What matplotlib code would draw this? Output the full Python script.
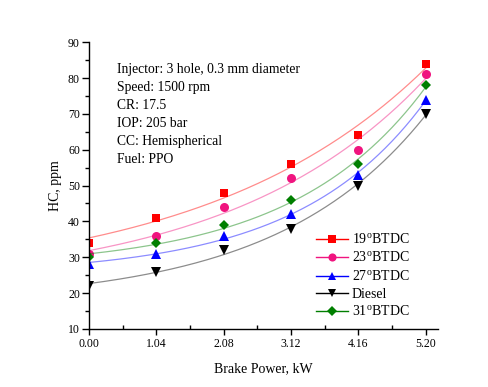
import numpy as np
import matplotlib
matplotlib.use("Agg")
import matplotlib.pyplot as plt
from matplotlib.ticker import MultipleLocator, FixedLocator
from matplotlib.lines import Line2D

plt.rcParams['font.family'] = ['Liberation Serif', 'DejaVu Serif']
plt.rcParams['mathtext.fontset'] = 'custom'
plt.rcParams['mathtext.rm'] = 'Liberation Serif'

power = [0.00, 1.04, 2.08, 3.12, 4.16, 5.20]
series_names = ["19$^\\mathrm{o}$BTDC", "23$^\\mathrm{o}$BTDC", "27$^\\mathrm{o}$BTDC", "Diesel", "31$^\\mathrm{o}$BTDC"]
hc_19 = [34, 41, 48, 56, 64, 84]
hc_23 = [31, 36, 44, 52, 60, 81]
hc_27 = [28, 31, 36, 42, 53, 74]
hc_diesel = [22, 26, 32, 38, 50, 70]
hc_31 = [30, 34, 39, 46, 56, 78]
tick_labels = ["0.00", "1.04", "2.08", "3.12", "4.16", "5.20"]
info_lines = ["Injector: 3 hole, 0.3 mm diameter", "Speed: 1500 rpm", "CR: 17.5",
              "IOP: 205 bar", "CC: Hemispherical", "Fuel: PPO"]

series = [hc_19, hc_23, hc_27, hc_diesel, hc_31]
colors = ["#ff0000", "#f0147f", "#0000ff", "#000000", "#007f00"]
markers = ["s", "o", "^", "v", "D"]
msizes = [6, 6.5, 6.5, 6.5, 5.5]


def exp_growth_fit(x, y):
    """Least-squares fit of y = y0 + A*exp(x/t) (scan t, linear solve y0, A)."""
    best = None
    for t in np.linspace(0.5, 20, 400):
        M = np.column_stack([np.ones_like(x), np.exp(x / t)])
        c, res, *_ = np.linalg.lstsq(M, y, rcond=None)
        err = np.sum((M @ c - y) ** 2)
        if best is None or err < best[0]:
            best = (err, t, c)
    _, t, c = best
    return lambda xx: c[0] + c[1] * np.exp(xx / t)


fig = plt.figure(figsize=(4.89, 3.87), dpi=100)
ax = fig.add_axes([0.182, 0.150, 0.714, 0.741])

x = np.array(power)
xf = np.linspace(0, 5.2, 200)
handles = []
for name, ys, c, m, ms in zip(series_names, series, colors, markers, msizes):
    f = exp_growth_fit(x, np.array(ys, dtype=float))
    ax.plot(xf, f(xf), color=c, alpha=0.45, lw=0.9)
    ax.plot(x, ys, linestyle='none', marker=m, color=c, ms=ms, markeredgewidth=0)
    handles.append(Line2D([], [], color=c, marker=m, ms=ms * 0.9, lw=1.0,
                          markeredgewidth=0, label=name))

ax.set_xlim(0, 5.39)
ax.set_ylim(10, 90)
ax.xaxis.set_major_locator(FixedLocator(power))
ax.set_xticklabels(tick_labels)
ax.xaxis.set_minor_locator(MultipleLocator(0.52))
ax.yaxis.set_major_locator(MultipleLocator(10))
ax.yaxis.set_minor_locator(MultipleLocator(5))

for s in ['top', 'right']:
    ax.spines[s].set_visible(False)
for s in ['left', 'bottom']:
    ax.spines[s].set_linewidth(1.0)

ax.tick_params(axis='x', which='major', direction='out', length=4, width=1.0,
               labelsize=8.5, pad=2.5)
ax.tick_params(axis='y', which='major', direction='out', length=5, width=1.0,
               labelsize=8.5, pad=1.5)
ax.tick_params(axis='x', which='minor', direction='in', length=3, width=1.0)
ax.tick_params(axis='y', which='minor', direction='out', length=3, width=1.0)

ax.set_xlabel("Brake Power, kW", fontsize=10, labelpad=9)
ax.set_ylabel("HC, ppm", fontsize=10, labelpad=4)

for i, t in enumerate(info_lines):
    ax.text(0.08, 0.905 - i * 0.0625, t, transform=ax.transAxes, fontsize=9.8,
            va='center', ha='left')

leg = ax.legend(handles=handles, loc='lower right', bbox_to_anchor=(0.945, 0.0),
                frameon=False, fontsize=10, handlelength=2.3, handletextpad=0.3,
                labelspacing=0.28, borderaxespad=0.3)

fig.savefig("out.png", dpi=100)
